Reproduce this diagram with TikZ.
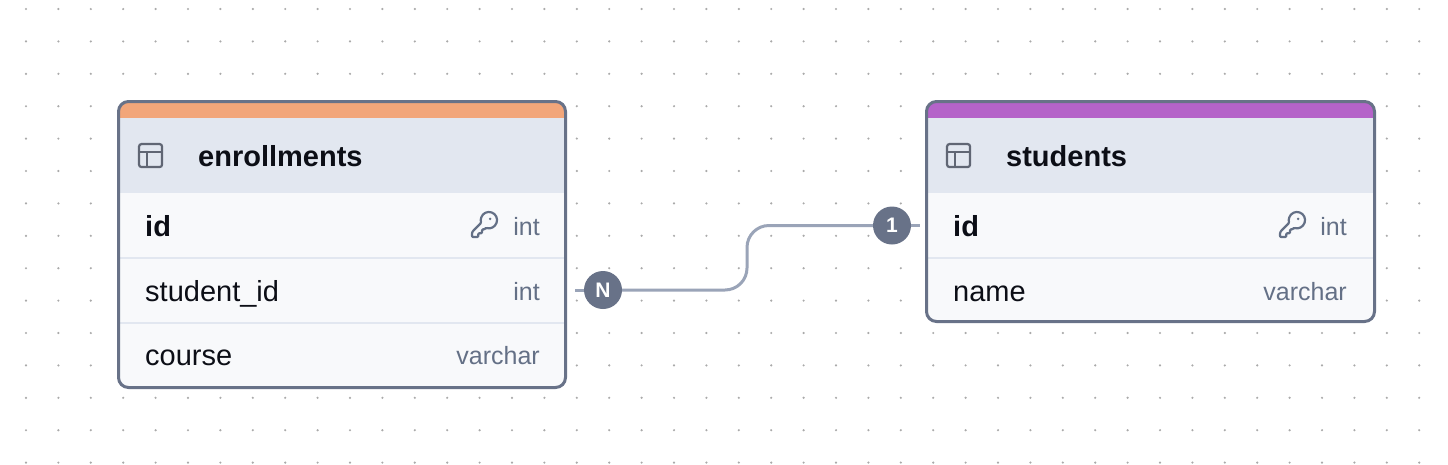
\documentclass[tikz,border=0pt]{standalone}
\usepackage{fontspec}
\setmainfont{Liberation Sans}
\definecolor{edge}{RGB}{104,114,136}
\definecolor{headbg}{RGB}{226,231,240}
\definecolor{rowbg}{RGB}{248,249,251}
\definecolor{sep}{RGB}{226,231,240}
\definecolor{wire}{RGB}{154,164,184}
\definecolor{dotc}{RGB}{170,170,170}
\definecolor{ink}{RGB}{12,14,22}
\definecolor{muted}{RGB}{100,112,134}
\definecolor{iconc}{RGB}{96,102,116}
\definecolor{bandE}{RGB}{242,166,122}
\definecolor{bandS}{RGB}{181,99,201}
\begin{document}
\begin{tikzpicture}[x=1pt,y=-1pt,
		field/.style={anchor=base west,inner sep=0pt,text=ink,font=\fontsize{29}{34}\selectfont},
		pkfield/.style={field,font=\fontsize{29}{34}\selectfont\bfseries},
		title/.style={pkfield},
		sqltype/.style={anchor=base east,inner sep=0pt,text=muted,font=\fontsize{25}{30}\selectfont},
		card/.style={circle,fill=edge,text=white,inner sep=0pt,minimum size=38pt,font=\fontsize{21}{25}\selectfont\bfseries},
		relline/.style={draw=wire,line width=3pt},
		frame/.style={draw=edge,line width=3pt,rounded corners=10pt},
		keyicon/.pic={
			\draw[muted,line width=2.2pt,line join=round,rounded corners=1pt]
			(2.6,17.4) -- (2,18.8) -- (2,22) -- (7,22) -- (7,19) -- (10,19) -- (10,16) -- (11.2,16) -- (12.6,15.4) -- (13.4,14.6)
			arc[start angle=109.2,end angle=-199.2,radius=6.5] -- cycle;
			\fill[muted] (16.5,7.5) circle (1.1);
		},
		tableicon/.pic={
			\draw[iconc,line width=2.2pt,rounded corners=2.5pt] (3,3) rectangle (21,21);
			\draw[iconc,line width=2.2pt] (3,9) -- (21,9) (9,9) -- (9,21);
		}]
	\useasboundingbox (0,0) rectangle (1448,464);
	\fill[white] (0,0) rectangle (1448,464);
	\foreach \i in {0,...,43}
		\foreach \j in {0,...,14}
			\fill[dotc] (26+32.4*\i,9+32.4*\j) circle (1.2);

	\begin{scope}
		\clip[rounded corners=10pt] (118.5,101.5) rectangle (565.5,387.5);
		\fill[rowbg] (118.5,101.5) rectangle (565.5,387.5);
		\fill[headbg] (118.5,118) rectangle (565.5,193);
		\fill[bandE] (118.5,101.5) rectangle (565.5,118);
		\draw[sep,line width=2pt] (118.5,258) -- (565.5,258) (118.5,322.5) -- (565.5,322.5);
	\end{scope}
	\draw[frame] (118.5,101.5) rectangle (565.5,387.5);

	\begin{scope}
		\clip[rounded corners=10pt] (926.5,101.5) rectangle (1374.5,321.5);
		\fill[rowbg] (926.5,101.5) rectangle (1374.5,321.5);
		\fill[headbg] (926.5,118) rectangle (1374.5,193);
		\fill[bandS] (926.5,101.5) rectangle (1374.5,118);
		\draw[sep,line width=2pt] (926.5,258) -- (1374.5,258);
	\end{scope}
	\draw[frame] (926.5,101.5) rectangle (1374.5,321.5);

	\pic[scale=1.28] at (135.2,140.2) {tableicon};
	\node[title] (E) at (198,166) {enrollments};
	\node[pkfield] (E-id) at (145,236) {id};
	\pic[scale=1.25] at (469.5,209.5) {keyicon};
	\node[sqltype] (E-id-t) at (540,235) {int};
	\node[field] (E-sid) at (145,301) {student\_id};
	\node[sqltype] (E-sid-t) at (540,300) {int};
	\node[field] (E-course) at (145,365) {course};
	\node[sqltype] (E-course-t) at (540,364) {varchar};

	\pic[scale=1.28] at (943.2,140.2) {tableicon};
	\node[title] (S) at (1006,166) {students};
	\node[pkfield] (S-id) at (953,236) {id};
	\pic[scale=1.25] at (1277.5,209.5) {keyicon};
	\node[sqltype] (S-id-t) at (1347,235) {int};
	\node[field] (S-name) at (953,301) {name};
	\node[sqltype] (S-name-t) at (1347,300) {varchar};

	\coordinate (E-port) at (575,290);
	\coordinate (S-port) at (920,225.5);
	\coordinate (bend) at (747,258);
	\node[card] (N) at (603,290) {N};
	\node[card] (one) at (892,225.5) {1};
	\draw[relline] (E-port) -- (N);
	\draw[relline,rounded corners=22pt] (N) -- (bend |- N) -- (bend |- one) -- (one);
	\draw[relline] (one) -- (S-port);
\end{tikzpicture}
\end{document}
